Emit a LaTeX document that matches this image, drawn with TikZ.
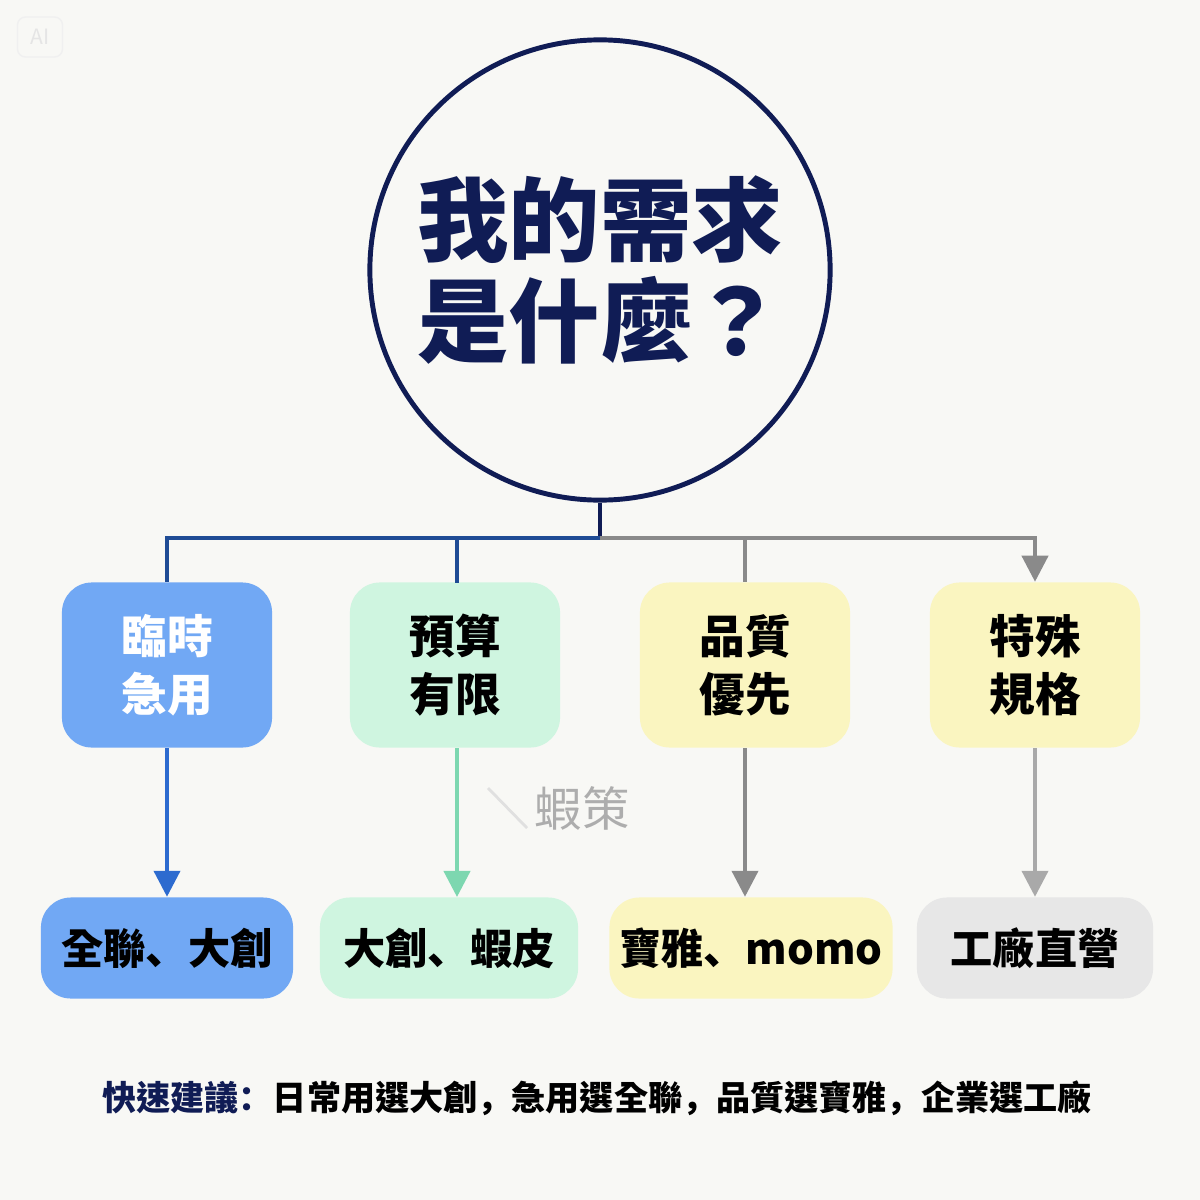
\documentclass[tikz,border=0pt]{standalone}
\usepackage{fontspec}
\setmainfont{Noto Sans CJK TC}
\newfontfamily\punct{Noto Sans CJK SC}
\newcommand{\dun}{{\punct 、}}
\newcommand{\dou}{{\punct ，}}
\usetikzlibrary{arrows.meta}

\definecolor{bgcol}{HTML}{F8F8F5}
\definecolor{navy}{HTML}{101C55}
\definecolor{barblue}{HTML}{1F4C95}
\definecolor{arrblue}{HTML}{2D6BCF}
\definecolor{arrgreen}{HTML}{7DD7B0}
\definecolor{arrgray}{HTML}{8A8A8A}
\definecolor{arrlight}{HTML}{A9A9A9}
\definecolor{boxblue}{HTML}{71A8F4}
\definecolor{boxgreen}{HTML}{CFF5E0}
\definecolor{boxyellow}{HTML}{FAF5C0}
\definecolor{boxgray}{HTML}{E7E7E7}

\tikzset{
  need/.style={rounded corners=0.3cm, minimum width=2.1cm, minimum height=1.65cm,
    align=center, inner sep=0pt, font=\bfseries\fontsize{13}{16.5}\selectfont},
  shop/.style={rounded corners=0.3cm, minimum height=1.01cm,
    inner sep=0pt, font=\bfseries\fontsize{12}{14}\selectfont},
  link/.style={line width=1.15pt},
}

\begin{document}
\begin{tikzpicture}[x=0.01cm,y=-0.01cm,>={Triangle[width=0.26cm,length=0.26cm]}]
    \fill[bgcol] (0,0) rectangle (1200,1200);

    % watermarks
    \node[draw=black!6, rounded corners=0.08cm, minimum width=0.45cm, minimum height=0.4cm,
      text=black!10, font=\fontsize{6}{7}\selectfont] (ai) at (40,37) {AI};
    \node[text=black!32, font=\fontsize{13.4}{15}\selectfont] (wm) at (582,808) {蝦策};
    \draw[black!12, line width=0.8pt] (488,788) -- (527,828);

    % question
    \node[circle, draw=navy, line width=1.4pt, minimum size=4.6cm, text=navy,
      align=center, font=\bfseries\fontsize{26}{28.5}\selectfont] (q) at (600,270) {我的需求\\是什麼？};

    % needs
    \node[need, fill=boxblue, text=white] (n1) at (167,665) {臨時\\急用};
    \node[need, fill=boxgreen] (n2) at (455,665) {預算\\有限};
    \node[need, fill=boxyellow] (n3) at (745,665) {品質\\優先};
    \node[need, fill=boxyellow] (n4) at (1035,665) {特殊\\規格};

    % shops
    \node[shop, fill=boxblue, minimum width=2.52cm] (r1) at (167,948) {全聯\dun 大創};
    \node[shop, fill=boxgreen, minimum width=2.58cm] (r2) at (449,948) {大創\dun 蝦皮};
    \node[shop, fill=boxyellow, minimum width=2.83cm] (r3) at (751,948) {寶雅\dun momo};
    \node[shop, fill=boxgray, minimum width=2.36cm] (r4) at (1035,948) {工廠直營};

    \coordinate (hub) at (600,538);
    \draw[link, navy] (q.south) -- (hub);
    \draw[link, barblue] (hub) -| (n1.north);
    \draw[link, barblue] (hub) -| (457,583);
    \draw[link, arrgray] (hub) -| (n3.north);
    \draw[link, arrgray, ->] (hub) -| (n4.north);

    \draw[link, arrblue, ->] (n1.south) -- (r1.north);
    \draw[link, arrgreen, ->] (457,748) -- (457,897);
    \draw[link, arrgray, ->] (n3.south) -- (n3.south |- r3.north);
    \draw[link, arrlight, ->] (n4.south) -- (r4.north);

    \node[font=\bfseries\fontsize{9.7}{11}\selectfont] (tip) at (597,1098)
      {\textcolor{navy}{快速建議{\punct ：}}日常用選大創\dou 急用選全聯\dou 品質選寶雅\dou 企業選工廠};
\end{tikzpicture}
\end{document}
